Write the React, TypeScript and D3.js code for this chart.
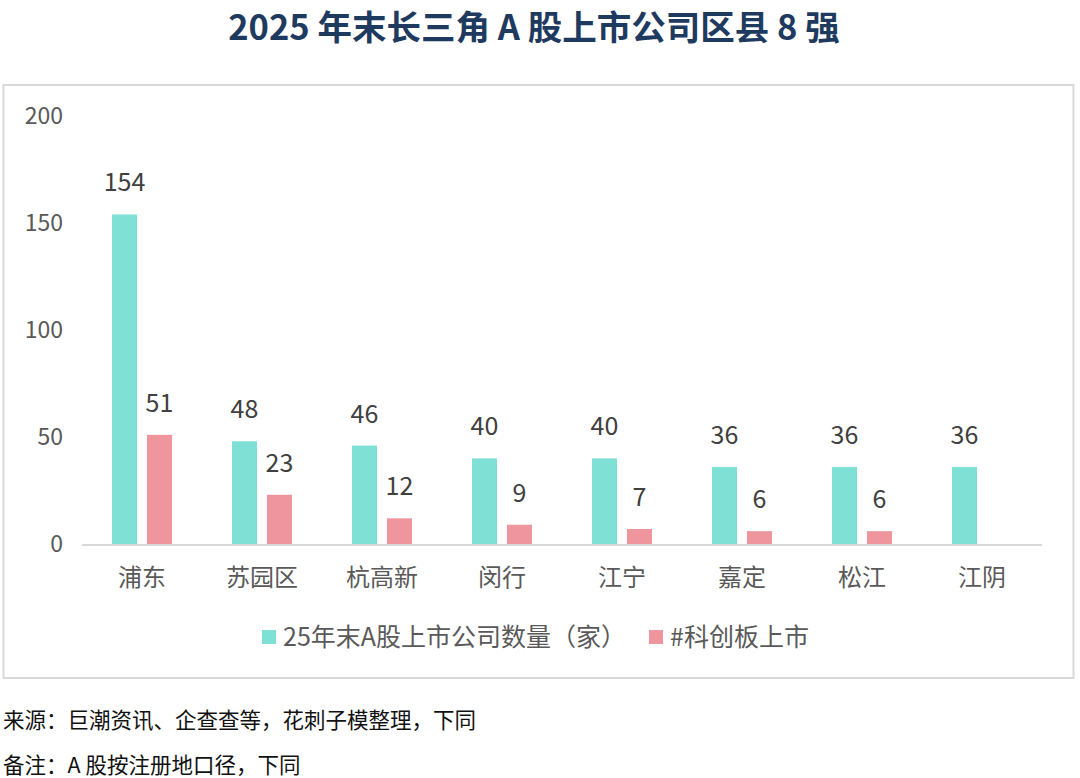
import React from "react";
import * as d3 from "d3";

const categories = ["浦东", "苏园区", "杭高新", "闵行", "江宁", "嘉定", "松江", "江阴"];
const totalListed: (number | null)[] = [154, 48, 46, 40, 40, 36, 36, 36];
const starMarket: (number | null)[] = [51, 23, 12, 9, 7, 6, 6, null];
const yTicks = [0, 50, 100, 150, 200];
const seriesNames = ["25年末A股上市公司数量（家）", "#科创板上市"];
const title = "2025 年末长三角 A 股上市公司区县 8 强";
const notes = ["来源：巨潮资讯、企查查等，花刺子模整理，下同", "备注：A 股按注册地口径，下同"];

const W = 1080;
const H = 778;
const colors = ["#7FE0D6", "#EE959E"];
const font = "'Noto Sans CJK SC', 'Noto Sans', sans-serif";

export default function App() {
  const x0 = d3.scaleBand<string>().domain(categories).range([82, 1042]).paddingInner(0).paddingOuter(0);
  const y = d3.scaleLinear().domain([0, 200]).range([544, 116]);
  const barW = 25;
  const gap = 8;
  const series = [totalListed, starMarket];

  return (
    <svg width={W} height={H} style={{ position: "absolute", left: 0, top: 0, background: "#fff" }} fontFamily={font}>
      <rect x={0} y={0} width={W} height={H} fill="#fff" />
      <text x={534} y={40} textAnchor="middle" fontSize={34.5} fontWeight={700} fill="#1F3A5F">
        {title}
      </text>
      <rect x={3.5} y={85} width={1070} height={593} fill="#fff" stroke="#D9D9D9" strokeWidth={2} />
      {yTicks.map((t) => (
        <text key={t} x={63} y={y(t)} dy="0.35em" textAnchor="end" fontSize={23} fill="#595959">
          {t}
        </text>
      ))}
      <line x1={82} x2={1042} y1={y(0) + 1} y2={y(0) + 1} stroke="#D9D9D9" strokeWidth={2} />
      {categories.map((c, i) => {
        const cx = (x0(c) ?? 0) + x0.bandwidth() / 2;
        return (
          <g key={c}>
            {series.map((s, k) => {
              const v = s[i];
              if (v == null) return null;
              const bx = k === 0 ? cx - gap / 2 - barW - 1 : cx + gap / 2 + 1;
              return (
                <g key={k}>
                  <rect x={bx} y={y(v)} width={barW} height={y(0) - y(v)} fill={colors[k]} />
                  <text x={bx + barW / 2} y={y(v) - 23} textAnchor="middle" fontSize={25} fill="#404040">
                    {v}
                  </text>
                </g>
              );
            })}
            <text x={cx} y={578} dy="0.35em" textAnchor="middle" fontSize={24} fill="#595959">
              {c}
            </text>
          </g>
        );
      })}
      <rect x={262} y={630} width={14} height={14} fill={colors[0]} />
      <text x={283} y={637} dy="0.35em" fontSize={25} fill="#595959">
        {seriesNames[0]}
      </text>
      <rect x={649} y={630} width={14} height={14} fill={colors[1]} />
      <text x={670} y={637} dy="0.35em" fontSize={25} fill="#595959">
        {seriesNames[1]}
      </text>
      <text x={3} y={720} dy="0.35em" fontSize={21.5} fill="#111">
        {notes[0]}
      </text>
      <text x={3} y={765} dy="0.35em" fontSize={21.5} fill="#111">
        {notes[1]}
      </text>
    </svg>
  );
}
